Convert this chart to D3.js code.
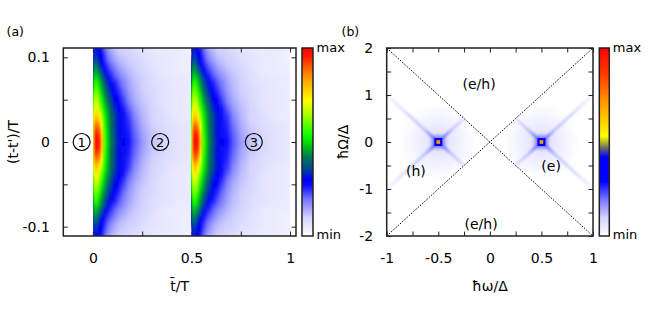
<!DOCTYPE html>
<html>
<head>
<meta charset="UTF-8">
<title>Correlation maps (a) and (b)</title>
<script src="https://cdnjs.cloudflare.com/ajax/libs/d3/7.8.5/d3.min.js"></script>
<style>
  body { margin: 0; background: #fff; overflow: hidden; }
  svg text { font-family: "DejaVu Sans", sans-serif; fill: #000; }
  .frame { fill: none; stroke: #222; stroke-width: 1.5; }
  .diag { stroke: #000; stroke-width: 1; stroke-dasharray: 1.5 1.5; }
  .region-mark { fill: none; stroke: #000; stroke-width: 1.2; }
</style>
</head>
<body>
<svg id="chart" width="654" height="314"></svg>
<script>
// ---- panel (a): intensity vs tbar/T (columns) and |t-t'|/T (rows), one half period
const tbarStops = [0, 0.005, 0.015, 0.025, 0.035, 0.045, 0.06, 0.075, 0.09, 0.11, 0.13, 0.15, 0.18, 0.21, 0.25, 0.30, 0.36, 0.43, 0.50];
const tauRows = [0, 0.01, 0.02, 0.03, 0.04, 0.05, 0.06, 0.07, 0.08, 0.09, 0.10, 0.11, 0.12];
const rowValues = [
  [0.64, 0.86, 0.98, 1.00, 0.93, 0.80, 0.60, 0.50, 0.43, 0.37, 0.32, 0.29, 0.27, 0.22, 0.16, 0.11, 0.08, 0.06, 0.05],
  [0.63, 0.84, 0.95, 0.96, 0.90, 0.77, 0.58, 0.49, 0.42, 0.36, 0.31, 0.28, 0.26, 0.21, 0.15, 0.11, 0.08, 0.06, 0.05],
  [0.62, 0.80, 0.88, 0.88, 0.82, 0.71, 0.56, 0.48, 0.42, 0.36, 0.31, 0.28, 0.25, 0.20, 0.14, 0.10, 0.07, 0.06, 0.05],
  [0.60, 0.73, 0.78, 0.77, 0.71, 0.64, 0.54, 0.47, 0.41, 0.36, 0.31, 0.28, 0.24, 0.18, 0.13, 0.09, 0.07, 0.05, 0.04],
  [0.56, 0.67, 0.71, 0.70, 0.64, 0.58, 0.50, 0.44, 0.39, 0.33, 0.29, 0.27, 0.21, 0.16, 0.12, 0.09, 0.06, 0.05, 0.04],
  [0.52, 0.62, 0.66, 0.64, 0.58, 0.53, 0.46, 0.40, 0.36, 0.30, 0.28, 0.24, 0.18, 0.14, 0.11, 0.08, 0.06, 0.05, 0.04],
  [0.47, 0.56, 0.60, 0.57, 0.53, 0.48, 0.42, 0.37, 0.32, 0.28, 0.25, 0.21, 0.16, 0.13, 0.10, 0.08, 0.06, 0.05, 0.04],
  [0.41, 0.50, 0.54, 0.52, 0.48, 0.44, 0.38, 0.33, 0.29, 0.26, 0.22, 0.19, 0.15, 0.12, 0.10, 0.07, 0.06, 0.05, 0.04],
  [0.38, 0.45, 0.47, 0.45, 0.42, 0.38, 0.32, 0.28, 0.25, 0.21, 0.18, 0.16, 0.13, 0.11, 0.09, 0.07, 0.05, 0.04, 0.04],
  [0.34, 0.40, 0.42, 0.39, 0.34, 0.30, 0.27, 0.24, 0.21, 0.18, 0.15, 0.13, 0.11, 0.10, 0.08, 0.06, 0.05, 0.04, 0.03],
  [0.25, 0.33, 0.35, 0.33, 0.30, 0.28, 0.24, 0.20, 0.17, 0.14, 0.12, 0.11, 0.10, 0.09, 0.07, 0.06, 0.05, 0.04, 0.03],
  [0.18, 0.27, 0.30, 0.29, 0.28, 0.26, 0.21, 0.17, 0.14, 0.12, 0.10, 0.09, 0.08, 0.07, 0.06, 0.05, 0.04, 0.04, 0.03],
  [0.13, 0.22, 0.26, 0.26, 0.25, 0.23, 0.18, 0.14, 0.12, 0.10, 0.09, 0.08, 0.07, 0.06, 0.05, 0.05, 0.04, 0.03, 0.03]
];
const periodStarts = [0, 0.5];
const aXTicks = [0, 0.25, 0.5, 0.75, 1];
const aXLabels = [0, 0.5, 1];
const aYTicks = [-0.1, -0.05, 0, 0.05, 0.1];
const aYLabels = [-0.1, 0, 0.1];
const regionMarks = [
  {t: -0.057, tau: 0, label: "1"},
  {t: 0.341, tau: 0, label: "2"},
  {t: 0.816, tau: 0, label: "3"}
];

// ---- panel (b): spectral map in (hbar omega, hbar Omega) / Delta
const peaks = [{w: -0.5, W: 0}, {w: 0.5, W: 0}];
const peakCore = 0.70, peakRing = 0.34, peakHalo = 0.20, peakGlow = 0.07;
const arms = [
  {from: [-0.5, 0], to: [-1, 1], end: 0.02},
  {from: [-0.5, 0], to: [-1, -1], end: 0.02},
  {from: [-0.5, 0], to: [-0.25, 0.5], end: 0.06},
  {from: [-0.5, 0], to: [-0.25, -0.5], end: 0.06},
  {from: [0.5, 0], to: [1, 1], end: 0.02},
  {from: [0.5, 0], to: [1, -1], end: 0.02},
  {from: [0.5, 0], to: [0.25, 0.5], end: 0.06},
  {from: [0.5, 0], to: [0.25, -0.5], end: 0.06}
];
const armStart = 0.22, armMid = 0.11;
const lightLines = [[-1, 2, 1, -2], [-1, -2, 1, 2]];
const bXTicks = [-1, -0.75, -0.5, -0.25, 0, 0.25, 0.5, 0.75, 1];
const bXLabels = [-1, -0.5, 0, 0.5, 1];
const bYTicks = [-2, -1.5, -1, -0.5, 0, 0.5, 1, 1.5, 2];
const bYLabels = [-2, -1, 0, 1, 2];
const regionNames = [
  {w: -0.104, W: 1.234, label: "(e/h)"},
  {w: -0.085, W: -1.745, label: "(e/h)"},
  {w: -0.717, W: -0.617, label: "(h)"},
  {w: 0.594, W: -0.5, label: "(e)"}
];

// colour palettes (value 0 = min, 1 = max)
const paletteA = [[0, "#ffffff"], [0.1, "#d0d0ff"], [0.2, "#7070ff"], [0.27, "#0a0aff"], [0.3, "#0000f0"],
  [0.36, "#004a90"], [0.42, "#007850"], [0.5, "#00e000"], [0.55, "#20ff00"], [0.65, "#b0ff00"],
  [0.72, "#ffff00"], [0.85, "#ff9000"], [0.95, "#ff2000"], [1, "#ff0000"]];
const paletteB = [[0, "#ffffff"], [0.1, "#d0d0ff"], [0.2, "#7070ff"], [0.29, "#0000ff"], [0.42, "#0000ff"],
  [0.47, "#707060"], [0.53, "#ffff00"], [0.58, "#ffe000"], [0.7, "#ffa000"], [0.85, "#ff4000"], [1, "#ff0000"]];

const makeColor = p => d3.scaleLinear()
  .domain(p.map(d => d[0])).range(p.map(d => d[1]))
  .interpolate(d3.interpolateRgb).clamp(true);
const colorA = makeColor(paletteA);
const colorB = makeColor(paletteB);

const svg = d3.select("#chart");
const defs = svg.append("defs");

const frameA = {left: 63.3, right: 296, top: 48, bottom: 236};
const frameB = {left: 386.7, right: 593, top: 48, bottom: 236};
const tick = 4.5;

const xA = d3.scaleLinear().domain([-0.15, 1.03]).range([frameA.left, frameA.right]);
const yA = d3.scaleLinear().domain([-0.111, 0.111]).range([frameA.bottom, frameA.top]);
const xB = d3.scaleLinear().domain([-1, 1]).range([frameB.left, frameB.right]);
const yB = d3.scaleLinear().domain([-2, 2]).range([frameB.bottom, frameB.top]);

// clip paths for both plot areas
[["clipA", frameA], ["clipB", frameB]].forEach(([id, f]) => {
  defs.append("clipPath").attr("id", id).append("rect")
    .attr("x", f.left).attr("y", f.top)
    .attr("width", f.right - f.left).attr("height", f.bottom - f.top);
});

// filters
defs.append("filter").attr("id", "vblur")
  .attr("x", "-5%").attr("y", "-10%").attr("width", "110%").attr("height", "120%")
  .append("feGaussianBlur").attr("stdDeviation", "0 3");
[["blur1", 1.1], ["blur2", 2], ["blur05", 0.5]].forEach(([id, s]) => {
  defs.append("filter").attr("id", id)
    .attr("x", "-50%").attr("y", "-50%").attr("width", "200%").attr("height", "200%")
    .append("feGaussianBlur").attr("stdDeviation", s);
});

// ---------------- panel (a) heatmap ----------------
tauRows.forEach((tau, i) => {
  const g = defs.append("linearGradient").attr("id", "rowA" + i)
    .attr("x1", 0).attr("x2", 1).attr("y1", 0).attr("y2", 0);
  tbarStops.forEach((t, k) => {
    g.append("stop").attr("offset", t / 0.5).attr("stop-color", colorA(rowValues[i][k]));
  });
});

// every row is drawn for +tau and -tau, in each half period
const bands = [];
tauRows.forEach((tau, i) => {
  const signs = tau === 0 ? [1] : [1, -1];
  signs.forEach(s => periodStarts.forEach(p => bands.push({i, tau: s * tau, p})));
});

const heatA = svg.append("g").attr("clip-path", "url(#clipA)")
  .append("g").attr("filter", "url(#vblur)");
heatA.selectAll("rect").data(bands).enter().append("rect")
  .attr("x", d => xA(d.p))
  .attr("width", d => xA(d.p + 0.5) - xA(d.p))
  .attr("y", d => yA(d.tau + 0.005))
  .attr("height", d => yA(d.tau - 0.005) - yA(d.tau + 0.005))
  .attr("shape-rendering", "crispEdges")
  .attr("fill", d => "url(#rowA" + d.i + ")");

// region markers 1, 2, 3
const marks = svg.append("g").selectAll("g").data(regionMarks).enter().append("g")
  .attr("transform", d => `translate(${xA(d.t)},${yA(d.tau)})`);
marks.append("circle").attr("class", "region-mark").attr("r", 8.5);
marks.append("text").attr("text-anchor", "middle").attr("dy", "0.36em")
  .style("font-size", "13px").text(d => d.label);

// ---------------- panel (b) map ----------------
const mapB = svg.append("g").attr("clip-path", "url(#clipB)");

const glow = defs.append("radialGradient").attr("id", "glowB");
glow.append("stop").attr("offset", 0).attr("stop-color", colorB(peakGlow)).attr("stop-opacity", 1);
glow.append("stop").attr("offset", 1).attr("stop-color", colorB(peakGlow)).attr("stop-opacity", 0);
mapB.selectAll(".glow").data(peaks).enter().append("circle")
  .attr("class", "glow")
  .attr("cx", d => xB(d.w)).attr("cy", d => yB(d.W)).attr("r", 38)
  .attr("fill", "url(#glowB)");

// streaks leaving each peak along the diagonals
arms.forEach((a, k) => {
  const x1 = xB(a.from[0]), y1 = yB(a.from[1]), x2 = xB(a.to[0]), y2 = yB(a.to[1]);
  const len = Math.hypot(x2 - x1, y2 - y1);
  const g = defs.append("linearGradient").attr("id", "armB" + k)
    .attr("gradientUnits", "userSpaceOnUse")
    .attr("x1", x1).attr("y1", y1).attr("x2", x2).attr("y2", y2);
  g.append("stop").attr("offset", 0).attr("stop-color", colorB(armStart));
  g.append("stop").attr("offset", Math.min(0.9, 18 / len)).attr("stop-color", colorB(armMid));
  g.append("stop").attr("offset", 1).attr("stop-color", colorB(a.end));
});
mapB.append("g").attr("filter", "url(#blur1)")
  .selectAll("line").data(arms).enter().append("line")
  .attr("x1", d => xB(d.from[0])).attr("y1", d => yB(d.from[1]))
  .attr("x2", d => xB(d.to[0])).attr("y2", d => yB(d.to[1]))
  .attr("stroke", (d, k) => "url(#armB" + k + ")")
  .attr("stroke-width", 3.2);

mapB.append("g").attr("filter", "url(#blur2)")
  .selectAll("circle").data(peaks).enter().append("circle")
  .attr("cx", d => xB(d.w)).attr("cy", d => yB(d.W)).attr("r", 6.5)
  .attr("fill", colorB(peakHalo));
mapB.append("g").attr("filter", "url(#blur05)")
  .selectAll("rect").data(peaks).enter().append("rect")
  .attr("x", d => xB(d.w) - 4).attr("y", d => yB(d.W) - 4)
  .attr("width", 8).attr("height", 8)
  .attr("fill", colorB(peakRing));
mapB.append("g").selectAll("rect").data(peaks).enter().append("rect")
  .attr("x", d => xB(d.w) - 1.8).attr("y", d => yB(d.W) - 1.8)
  .attr("width", 3.6).attr("height", 3.6)
  .attr("fill", colorB(peakCore));

// light-cone lines
mapB.selectAll(".diag").data(lightLines).enter().append("line")
  .attr("class", "diag")
  .attr("x1", d => xB(d[0])).attr("y1", d => yB(d[1]))
  .attr("x2", d => xB(d[2])).attr("y2", d => yB(d[3]));

svg.append("g").selectAll("text").data(regionNames).enter().append("text")
  .attr("x", d => xB(d.w)).attr("y", d => yB(d.W))
  .attr("text-anchor", "middle").attr("dy", "0.36em")
  .style("font-size", "14px")
  .text(d => d.label);

// ---------------- axes, frames, colour bars ----------------
const fmt = labels => d => labels.includes(d) ? String(d) : "";
const styleAxis = g => {
  g.select(".domain").remove();
  g.attr("font-family", "DejaVu Sans").attr("font-size", 14);
  g.selectAll(".tick line").attr("stroke", "#222");
};

const drawAxes = (f, x, y, xt, xl, yt, yl) => {
  svg.append("g").attr("transform", `translate(0,${f.bottom})`)
    .call(d3.axisBottom(x).tickValues(xt).tickSize(-tick).tickPadding(17.4).tickFormat(fmt(xl)))
    .call(styleAxis);
  svg.append("g").attr("transform", `translate(0,${f.top})`)
    .call(d3.axisTop(x).tickValues(xt).tickSize(-tick).tickFormat(""))
    .call(styleAxis);
  svg.append("g").attr("transform", `translate(${f.left},0)`)
    .call(d3.axisLeft(y).tickValues(yt).tickSize(-tick).tickPadding(13.5).tickFormat(fmt(yl)))
    .call(styleAxis);
  svg.append("g").attr("transform", `translate(${f.right},0)`)
    .call(d3.axisRight(y).tickValues(yt).tickSize(-tick).tickFormat(""))
    .call(styleAxis);
  svg.append("rect").attr("class", "frame")
    .attr("x", f.left).attr("y", f.top)
    .attr("width", f.right - f.left).attr("height", f.bottom - f.top);
};
drawAxes(frameA, xA, yA, aXTicks, aXLabels, aYTicks, aYLabels);
drawAxes(frameB, xB, yB, bXTicks, bXLabels, bYTicks, bYLabels);

const colorBar = (id, palette, x0, w, f) => {
  const g = defs.append("linearGradient").attr("id", id)
    .attr("x1", 0).attr("x2", 0).attr("y1", 1).attr("y2", 0);
  palette.forEach(p => g.append("stop").attr("offset", p[0]).attr("stop-color", p[1]));
  svg.append("rect").attr("x", x0).attr("y", f.top).attr("width", w).attr("height", f.bottom - f.top)
    .attr("fill", "url(#" + id + ")");
  svg.append("rect").attr("class", "frame").attr("x", x0).attr("y", f.top)
    .attr("width", w).attr("height", f.bottom - f.top);
  svg.append("text").attr("x", x0 + w + 3.5).attr("y", f.top + 3.5).style("font-size", "13px").text("max");
  svg.append("text").attr("x", x0 + w + 3.5).attr("y", f.bottom + 3).style("font-size", "13px").text("min");
};
colorBar("cbA", paletteA, 302, 11, frameA);
colorBar("cbB", paletteB, 599.3, 10, frameB);

// titles
svg.append("text").attr("x", (frameA.left + frameA.right) / 2).attr("y", 291)
  .attr("text-anchor", "middle").style("font-size", "14px").text("t\u0304/T");
svg.append("text").attr("x", (frameB.left + frameB.right) / 2).attr("y", 291)
  .attr("text-anchor", "middle").style("font-size", "14px").text("ħω/Δ");
svg.append("text").attr("transform", "translate(13,142) rotate(-90)")
  .attr("text-anchor", "middle").attr("dy", "0.35em").style("font-size", "14px").text("(t-t')/T");
svg.append("text").attr("transform", "translate(343,142) rotate(-90)")
  .attr("text-anchor", "middle").attr("dy", "0.35em").style("font-size", "14px").text("ħΩ/Δ");
svg.append("text").attr("x", 6.5).attr("y", 36).style("font-size", "12.5px").text("(a)");
svg.append("text").attr("x", 341.5).attr("y", 36).style("font-size", "12.5px").text("(b)");
</script>
</body>
</html>
